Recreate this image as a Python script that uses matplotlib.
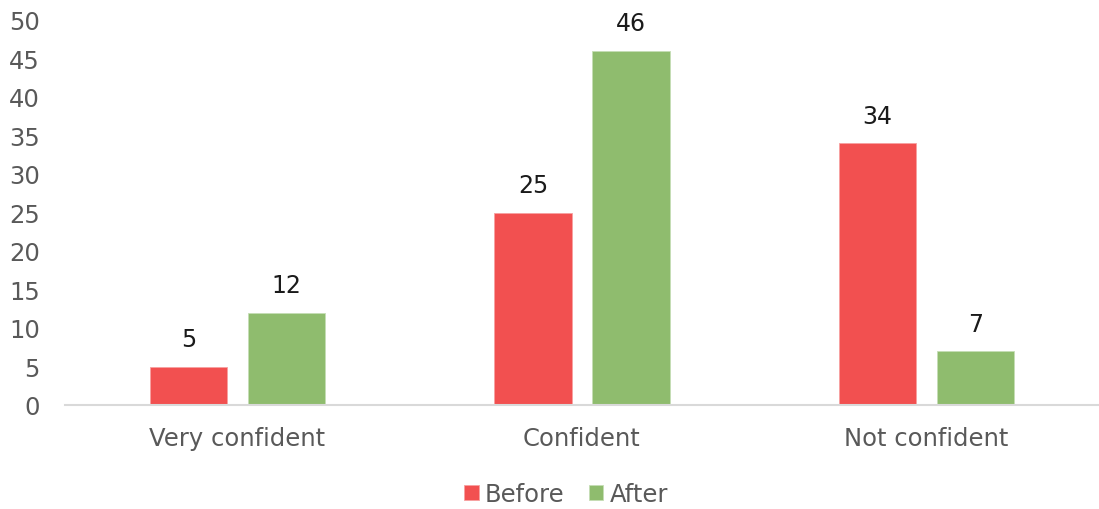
import matplotlib.pyplot as plt
import numpy as np

categories = ["Very confident", "Confident", "Not confident"]
before = [5, 25, 34]
after = [12, 46, 7]
series_names = ["Before", "After"]
yticks = [0, 5, 10, 15, 20, 25, 30, 35, 40, 45, 50]

plt.rcParams['font.family'] = ['DejaVu Sans']

fig = plt.figure(figsize=(10.99, 5.10), dpi=100)
ax = fig.add_axes([65/1099, 1-406/510, 1-65/1099, (406-21)/510])

x = np.arange(len(categories))
w = 0.224
off = 0.142
b1 = ax.bar(x - off, before, w, color='#F25050', edgecolor='#F7A0A0', linewidth=0.6, label=series_names[0])
b2 = ax.bar(x + off, after, w, color='#8FBC6E', edgecolor='#C5DDB5', linewidth=0.6, label=series_names[1])

for bars in (b1, b2):
    for r in bars:
        ax.text(r.get_x() + r.get_width()/2, r.get_height() + 2.0, f"{int(r.get_height())}",
                ha='center', va='bottom', fontsize=17, color='#1a1a1a')

ax.set_xlim(-0.5, 2.5)
ax.set_ylim(0, 50)
ax.set_yticks(yticks)
ax.set_xticks(x)
ax.set_xticklabels(categories)
ax.tick_params(axis='both', length=0, labelsize=17.5, colors='#595959')
ax.tick_params(axis='x', pad=15)
ax.tick_params(axis='y', pad=18)
for s in ['top', 'right', 'left']:
    ax.spines[s].set_visible(False)
ax.spines['bottom'].set_color('#D9D9D9')
ax.spines['bottom'].set_linewidth(1.5)

leg = fig.legend(loc='center', bbox_to_anchor=(0.515, 1-495/510), ncol=2, frameon=False,
                 fontsize=17.5, handlelength=0.6, handleheight=0.6, handletextpad=0.25,
                 columnspacing=1.0, labelcolor='#595959')

fig.savefig('out.png', dpi=100)
